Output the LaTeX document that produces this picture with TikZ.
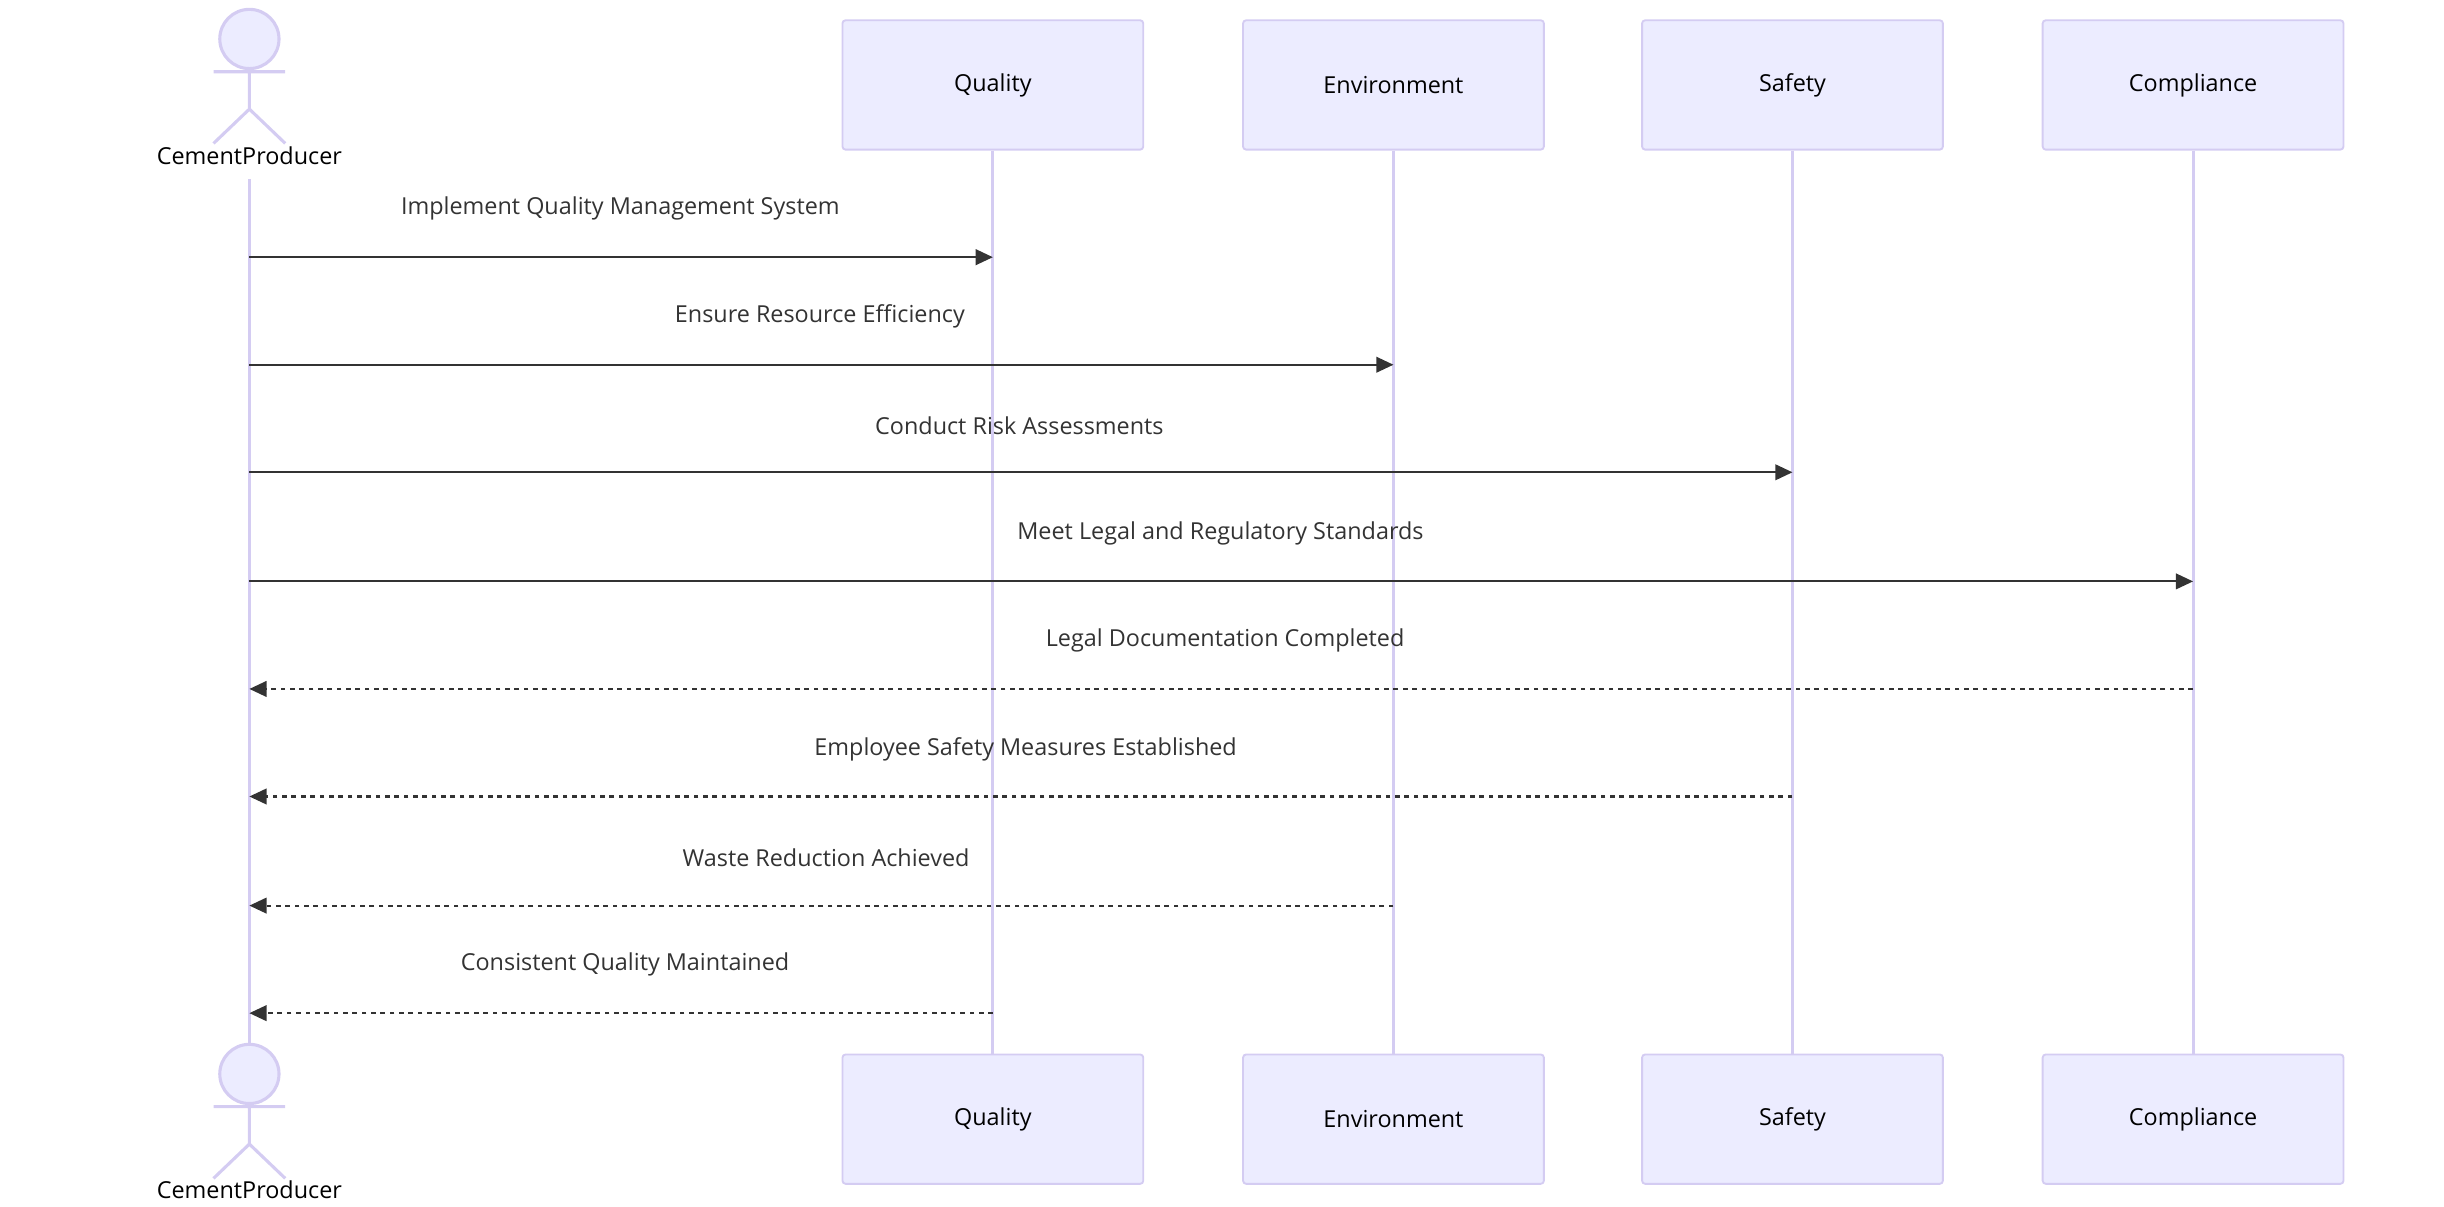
\documentclass[tikz,border=0pt]{standalone}
\usepackage{fontspec}
\setmainfont{Open Sans}
\usetikzlibrary{arrows.meta}
\definecolor{boxf}{HTML}{ECECFF}
\definecolor{boxs}{HTML}{D4CCF2}
\definecolor{txt}{HTML}{333333}
\begin{document}
\begin{tikzpicture}[x=1pt,y=-1pt,
  part/.style={draw=boxs,fill=boxf,line width=1.2pt,rounded corners=2pt,minimum width=193pt,minimum height=83pt,font=\fontsize{15}{18}\selectfont,text=black},
  life/.style={draw=boxs,line width=2pt},
  msg/.style={draw=txt,line width=1.3pt,-{Triangle[length=11pt,width=10pt]}},
  ret/.style={msg,dash pattern=on 3pt off 3pt},
  lab/.style={font=\fontsize{15}{18}\selectfont,text=txt},
  act/.style={draw=boxs,line width=2pt}]
\useasboundingbox (0,0) rectangle (1568,774);
% participants
\foreach \n/\x/\t in {q/637/Quality,e/894/Environment,s/1150/Safety,c/1407/Compliance}{
  \node[part] (\n top) at (\x,54.5) {\t};
  \node[part] (\n bot) at (\x,718) {\t};
  \draw[life] (\n top.south) -- (\n bot.north);
}
% actors
\foreach \y/\nm in {0/atop,664/abot}{
  \begin{scope}[yshift=-\y pt]
  \draw[act,fill=boxf] (160,25) circle (19);
  \draw[act] (160,44) -- (160,70) (137,46) -- (183,46) (137,92) -- (160,70) -- (183,92);
  \end{scope}
}
\node[font=\fontsize{15}{18}\selectfont] (cptop) at (160,100) {CementProducer};
\node[font=\fontsize{15}{18}\selectfont] (cpbot) at (160,763) {CementProducer};
\coordinate (l0) at (160,115);
\coordinate (l1) at (160,670);
\draw[life] (l0) -- (l1);
% message coordinates
\foreach \i/\y in {1/165,2/234,3/303,4/373,5/442,6/511,7/581,8/650}{
  \coordinate (a\i) at (160,\y);
}
\coordinate (q1) at (637,165); \coordinate (e2) at (894,234);
\coordinate (s3) at (1150,303); \coordinate (c4) at (1407,373);
\coordinate (c5) at (1407,442); \coordinate (s6) at (1150,511);
\coordinate (e7) at (894,581); \coordinate (q8) at (637,650);
\draw[msg] (a1) -- (q1); \node[lab] (m1) at (398,134) {Implement Quality Management System};
\draw[msg] (a2) -- (e2); \node[lab] (m2) at (526,203) {Ensure Resource Efficiency};
\draw[msg] (a3) -- (s3); \node[lab] (m3) at (654,273) {Conduct Risk Assessments};
\draw[msg] (a4) -- (c4); \node[lab] (m4) at (783,342) {Meet Legal and Regulatory Standards};
\draw[ret] (c5) -- (a5); \node[lab] (m5) at (786,411) {Legal Documentation Completed};
\draw[ret] (s6) -- (a6); \node[lab] (m6) at (658,481) {Employee Safety Measures Established};
\draw[ret] (e7) -- (a7); \node[lab] (m7) at (530,550) {Waste Reduction Achieved};
\draw[ret] (q8) -- (a8); \node[lab] (m8) at (401,619) {Consistent Quality Maintained};
\end{tikzpicture}
\end{document}
